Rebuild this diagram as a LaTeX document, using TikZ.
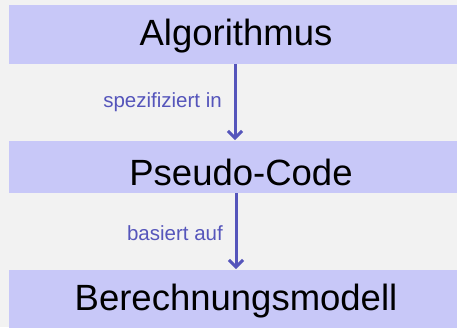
\documentclass[tikz,border=0pt]{standalone}
\usepackage{fontspec}
\setmainfont{Liberation Sans}
\usetikzlibrary{arrows.meta}
\definecolor{bg}{RGB}{242,242,242}
\definecolor{boxfill}{RGB}{200,200,248}
\definecolor{arrowc}{RGB}{85,85,187}
\begin{document}
\begin{tikzpicture}[x=1bp,y=-1bp,
  box/.style={fill=boxfill,draw=none,inner sep=0pt,outer sep=0pt,minimum width=454bp},
  title/.style={anchor=base,inner sep=0pt,font=\fontsize{36.5bp}{40bp}\selectfont,text=black},
  lbl/.style={anchor=east,inner sep=0pt,font=\fontsize{20.5bp}{24bp}\selectfont,text=arrowc},
  conn/.style={draw=arrowc,line width=3bp,-{Straight Barb[length=7bp,width=14bp,line width=3bp]}}]
\useasboundingbox (0,0) rectangle (457,327);
\fill[bg] (0,0) rectangle (457,327);
\begin{scope}
\clip (0,0) rectangle (457,327);
\node[box,minimum height=59bp] (b1) at (236,34.5) {};
\node[box,minimum height=52bp] (b2) at (236,167) {};
\node[box,minimum height=70bp] (b3) at (236,305) {};
\end{scope}
\node[title] (alg) at (236,45) {Algorithmus};
\node[title] (pc) at (241,185) {Pseudo-Code};
\node[title] (bm) at (236,310) {Berechnungsmodell};
\draw[conn] ([xshift=-1bp]b1.south) -- ([xshift=-1bp,yshift=1bp]b2.north);
\draw[conn] (b2.south) -- ([yshift=1bp]b3.north);
\node[lbl] (l1) at (222,102) {spezifiziert in};
\node[lbl] (l2) at (223,233) {basiert auf};
\end{tikzpicture}
\end{document}
